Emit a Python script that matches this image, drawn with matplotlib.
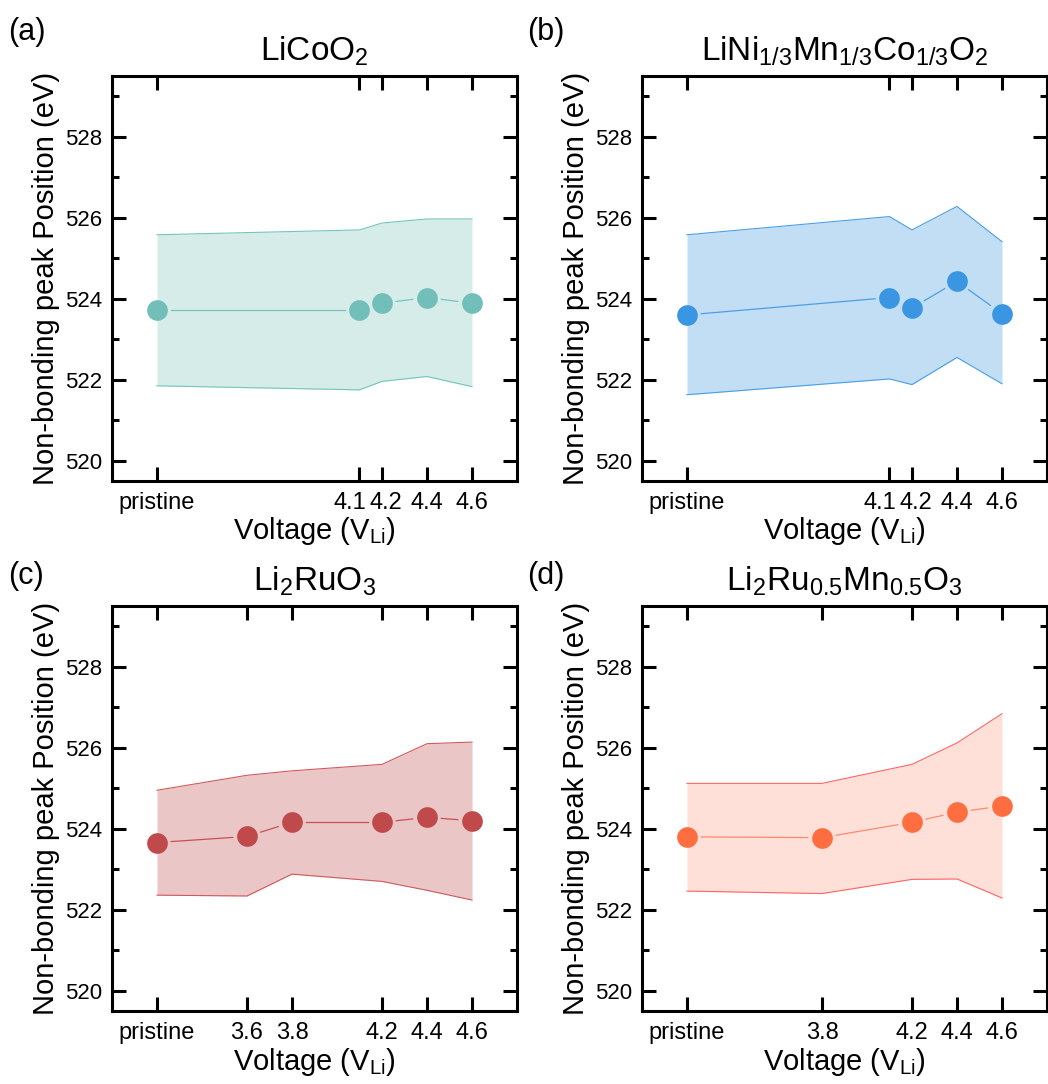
import matplotlib
matplotlib.use("Agg")
import matplotlib.pyplot as plt
import matplotlib.transforms as mtransforms
from matplotlib.ticker import MultipleLocator
import numpy as np

plt.rcParams['font.family'] = ['Liberation Sans', 'DejaVu Sans']
plt.rcParams['mathtext.fontset'] = 'custom'
plt.rcParams['mathtext.rm'] = 'Liberation Sans'
plt.rcParams['mathtext.it'] = 'Liberation Sans'
plt.rcParams['mathtext.default'] = 'regular'

# ---- data ----
titles = [r'LiCoO$_2$',
          r'LiNi$_{1/3}$Mn$_{1/3}$Co$_{1/3}$O$_2$',
          r'Li$_2$RuO$_3$',
          r'Li$_2$Ru$_{0.5}$Mn$_{0.5}$O$_3$']
panel_labels = ['(a)', '(b)', '(c)', '(d)']

# voltages (pristine plotted at 3.2)
x_a = [3.2, 4.1, 4.2, 4.4, 4.6]
x_b = [3.2, 4.1, 4.2, 4.4, 4.6]
x_c = [3.2, 3.6, 3.8, 4.2, 4.4, 4.6]
x_d = [3.2, 3.8, 4.2, 4.4, 4.6]

labels_a = ['pristine', '4.1', '4.2', '4.4', '4.6']
labels_b = ['pristine', '4.1', '4.2', '4.4', '4.6']
labels_c = ['pristine', '3.6', '3.8', '4.2', '4.4', '4.6']
labels_d = ['pristine', '3.8', '4.2', '4.4', '4.6']

peak_a = [523.73, 523.73, 523.89, 524.03, 523.89]
upper_a = [525.58, 525.70, 525.87, 525.97, 525.97]
lower_a = [521.85, 521.75, 521.96, 522.08, 521.83]

peak_b = [523.60, 524.03, 523.77, 524.43, 523.63]
upper_b = [525.58, 526.03, 525.70, 526.28, 525.41]
lower_b = [521.63, 522.02, 521.88, 522.55, 521.90]

peak_c = [523.66, 523.81, 524.16, 524.16, 524.28, 524.20]
upper_c = [524.95, 525.32, 525.43, 525.59, 526.10, 526.14]
lower_c = [522.36, 522.34, 522.88, 522.70, 522.48, 522.24]

peak_d = [523.80, 523.78, 524.16, 524.41, 524.56]
upper_d = [525.12, 525.12, 525.59, 526.12, 526.84]
lower_d = [522.46, 522.40, 522.75, 522.76, 522.29]

marker_colors = ['#72BEB8', '#3A96E2', '#C04A4B', '#FF6E40']
fill_colors = ['#D5ECE9', '#C2DEF5', '#EBC6C7', '#FFE0D8']
edge_colors = ['#74C5BD', '#4A9FE6', '#D05A5C', '#FF6464']
line_colors = ['#74C5BD', '#4A9FE6', '#C85052', '#FF8A6A']

panels = [
    (x_a, labels_a, peak_a, upper_a, lower_a),
    (x_b, labels_b, peak_b, upper_b, lower_b),
    (x_c, labels_c, peak_c, upper_c, lower_c),
    (x_d, labels_d, peak_d, upper_d, lower_d),
]

W, H = 1048, 1084
DPI = 100
fig = plt.figure(figsize=(W / DPI, H / DPI), dpi=DPI)

# axes rects in pixels: left, top, right, bottom
rects = [(112, 76, 517, 481), (642, 76, 1047, 481),
         (112, 606, 517, 1011), (642, 606, 1047, 1011)]
label_pos = [(8, 32), (527, 32), (8, 576), (527, 576)]

MS = 14.9           # marker size, points
GAP_PX = MS * DPI / 72 / 2 + 4   # line gap around each symbol, pixels

for i, ((xs, xl, pk, up, lo), (l, t, r, b)) in enumerate(zip(panels, rects)):
    ax = fig.add_axes([l / W, 1 - b / H, (r - l) / W, (b - t) / H])
    ax.set_xlim(3.0, 4.8)
    ax.set_ylim(519.5, 529.5)

    ax.fill_between(xs, lo, up, color=fill_colors[i], lw=0, zorder=1)
    ax.plot(xs, up, color=edge_colors[i], lw=0.8, zorder=2)
    ax.plot(xs, lo, color=edge_colors[i], lw=0.8, zorder=2)

    # connecting line with Origin-style gaps around the symbols
    pts = ax.transData.transform(np.column_stack([xs, pk]))
    inv = ax.transData.inverted()
    for p0, p1 in zip(pts[:-1], pts[1:]):
        d = p1 - p0
        L = np.hypot(*d)
        if L > 2 * GAP_PX:
            u = d / L
            seg = inv.transform(np.array([p0 + u * GAP_PX, p1 - u * GAP_PX]))
            ax.plot(seg[:, 0], seg[:, 1], color=line_colors[i], lw=0.9,
                    zorder=3)
    ax.plot(xs, pk, ls='none', marker='o', ms=MS, mfc=marker_colors[i],
            mec=marker_colors[i], mew=0, zorder=4)

    ax.set_xticks(xs)
    ax.set_xticklabels(xl)
    ax.set_yticks([520, 522, 524, 526, 528])
    ax.yaxis.set_minor_locator(MultipleLocator(1))
    ax.tick_params(axis='both', which='major', direction='in', length=10,
                   width=2.2, top=True, right=True)
    ax.tick_params(axis='x', which='major', pad=8, labelsize=17)
    ax.tick_params(axis='y', which='major', pad=7, labelsize=16)
    ax.tick_params(axis='y', which='minor', direction='in', length=5,
                   width=2.2, left=True, right=True)
    ax.tick_params(axis='x', which='minor', bottom=False, top=False)
    for s in ax.spines.values():
        s.set_linewidth(2.2)

    # nudge the crowded 4.1 / 4.2 labels apart as in the original
    for lab in ax.get_xticklabels():
        txt = lab.get_text()
        if '4.1' in labels_a and xs == x_a or xs == x_b:
            pass
        if txt == '4.1' and '4.1' in xl:
            lab.set_transform(lab.get_transform() + mtransforms.ScaledTranslation(
                -10 / DPI, 0, fig.dpi_scale_trans))
        elif txt == '4.2' and '4.1' in xl:
            lab.set_transform(lab.get_transform() + mtransforms.ScaledTranslation(
                4 / DPI, 0, fig.dpi_scale_trans))

    ax.set_xlabel(r'Voltage (V$_{\mathrm{Li}}$)', fontsize=21, labelpad=1)
    ax.set_ylabel('Non-bonding peak Position (eV)', fontsize=21, labelpad=4)
    ax.set_title(titles[i], fontsize=24, pad=11)

    px, py = label_pos[i]
    fig.text(px / W, 1 - py / H, panel_labels[i], fontsize=22,
             ha='left', va='center')

fig.savefig('out.png', dpi=DPI)
